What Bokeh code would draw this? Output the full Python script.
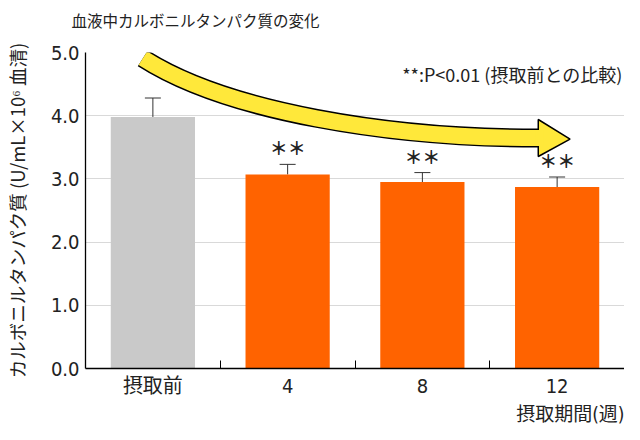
from bokeh.plotting import figure
from bokeh.models import (ColumnDataSource, FixedTicker, Whisker, TeeHead, Label,
                          Title, Range1d)
from bokeh.embed import file_html
from bokeh.resources import INLINE
from bokeh.core.properties import value

# ---- data ----
categories = ["摂取前", "4", "8", "12"]
means = [3.98, 3.07, 2.95, 2.87]
err_top = [4.28, 3.23, 3.10, 3.03]
bar_colors = ["#c9c9c9", "#ff6300", "#ff6300", "#ff6300"]
sig_marks = ["", "＊＊", "＊＊", "＊＊"]
y_ticks = [0, 1, 2, 3, 4, 5]
y_tick_labels = ["0.0", "1.0", "2.0", "3.0", "4.0", "5.0"]

title_text = "血液中カルボニルタンパク質の変化"
y_label = "カルボニルタンパク質 (U/mL×10⁶ 血清)"
x_label = "摂取期間(週)"
note_text = "**:P<0.01 (摂取前との比較)"

# arrow (decorative trend arrow), cubic bezier in data units
arrow_start = (0.426, 4.91)
arrow_c1 = (1.05, 4.06)
arrow_c2 = (2.257, 3.646)
arrow_end = (3.36, 3.646)
arrow_head = [(3.36, 3.94), (3.596, 3.63), (3.36, 3.354)]

CJK = "Noto Sans CJK JP"
NARROW = "Liberation Sans Narrow, DejaVu Sans Condensed, Noto Sans CJK JP, sans-serif"

x_pos = [i + 0.5 for i in range(len(categories))]
boundaries = [i + 1 for i in range(len(categories))]

src = ColumnDataSource(dict(x=x_pos, top=means, upper=err_top, color=bar_colors))

p = figure(width=624, height=424, x_range=Range1d(0, len(categories)),
           y_range=Range1d(0, 5), output_backend="svg", toolbar_location=None,
           min_border_left=80, min_border_right=0, min_border_top=52,
           min_border_bottom=52)
p.outline_line_color = None
p.background_fill_color = "white"
p.border_fill_color = "white"

p.vbar(x="x", top="top", width=0.625, fill_color="color", line_color=None, source=src)

p.add_layout(Whisker(base="x", upper="upper", lower="top", source=src,
                     line_color="#333333", line_width=1,
                     upper_head=TeeHead(size=16, line_color="#333333", line_width=1),
                     lower_head=None))

# significance marks
star_src = ColumnDataSource(dict(x=x_pos, y=[u + 0.27 for u in err_top], t=sig_marks))
p.text(x="x", y="y", text="t", source=star_src, text_align="center",
       text_baseline="middle", text_font=value(CJK), text_font_size="18px",
       text_font_style="bold", text_color="#222222")

# trend arrow
ax0, ay0 = arrow_start
p.bezier(x0=[ax0], y0=[ay0], x1=[arrow_end[0]], y1=[arrow_end[1]],
         cx0=[arrow_c1[0]], cy0=[arrow_c1[1]], cx1=[arrow_c2[0]], cy1=[arrow_c2[1]],
         line_color="black", line_width=19)
p.patch(x=[pt[0] for pt in arrow_head], y=[pt[1] for pt in arrow_head],
        fill_color="#ffe83a", line_color="black", line_width=1.5)
p.bezier(x0=[ax0], y0=[ay0], x1=[arrow_end[0]], y1=[arrow_end[1]],
         cx0=[arrow_c1[0]], cy0=[arrow_c1[1]], cx1=[arrow_c2[0]], cy1=[arrow_c2[1]],
         line_color="#ffe83a", line_width=16)
p.segment(x0=[arrow_end[0] - 0.02], y0=[arrow_end[1]], x1=[arrow_end[0] + 0.04],
          y1=[arrow_end[1]], line_color="#ffe83a", line_width=16)

# note
p.add_layout(Label(x=len(categories), y=4.66, x_offset=-2, text=note_text,
                   text_align="right", text_baseline="middle",
                   text_font=CJK, text_font_size="18px", text_color="#222222"))

# title (blank second line lifts it towards the top edge) and x-axis caption
p.title = Title(text=title_text + "\n ", align="left", offset=-14, standoff=0,
                vertical_align="bottom",
                text_font=CJK, text_font_size="15.5px", text_font_style="normal",
                text_color="#222222")
p.add_layout(Title(text=x_label, align="right", text_font=NARROW,
                   text_font_size="19px", text_font_style="normal",
                   text_color="#222222", standoff=0), "below")

# axes
xa = p.xaxis[0]
xa.ticker = FixedTicker(ticks=x_pos, minor_ticks=boundaries)
xa.major_label_overrides = {x: c for x, c in zip(x_pos, categories)}
xa.major_tick_in = 0
xa.major_tick_out = 0
xa.minor_tick_in = 8
xa.minor_tick_out = 0
xa.minor_tick_line_color = "black"
xa.axis_line_color = "black"
xa.axis_line_width = 1.3
xa.major_label_text_font = NARROW
xa.major_label_text_font_size = "20px"
xa.major_label_text_color = "#222222"
xa.major_label_standoff = 5

ya = p.yaxis[0]
ya.ticker = FixedTicker(ticks=y_ticks)
ya.major_label_overrides = {t: s for t, s in zip(y_ticks, y_tick_labels)}
ya.major_tick_in = 0
ya.major_tick_out = 0
ya.minor_tick_line_color = None
ya.axis_line_color = "black"
ya.axis_line_width = 1.3
ya.major_label_text_font = NARROW
ya.major_label_text_font_size = "20px"
ya.major_label_text_color = "#222222"
ya.major_label_standoff = 6
ya.axis_label = y_label
ya.axis_label_text_font = CJK
ya.axis_label_text_font_size = "18.5px"
ya.axis_label_text_font_style = "normal"
ya.axis_label_text_color = "#222222"
ya.axis_label_standoff = 18

p.xgrid.visible = False
p.ygrid.grid_line_color = "#d9d9d9"
p.ygrid.grid_line_width = 1

open("out.html", "w").write(file_html(p, INLINE))
